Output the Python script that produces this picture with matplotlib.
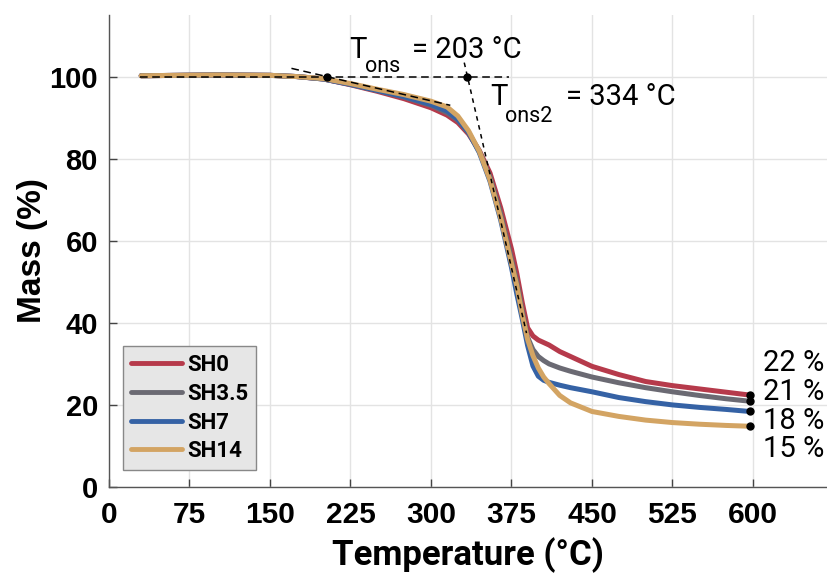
import matplotlib
matplotlib.use("Agg")
import matplotlib.pyplot as plt

# ---------------- data ----------------
temp = [30, 100, 150, 175, 200, 225, 250, 275, 300, 315, 325, 335, 345, 355, 365, 375,
        380, 385, 390, 395, 400, 405, 410, 420, 430, 450, 475, 500, 525, 550, 575, 597]

mass_sh0 = [100.2, 100.4, 100.3, 100.0, 99.4, 98.0, 96.4, 94.6, 92.4, 90.6, 88.8, 86.0, 82.0, 76.5, 68.0, 58.0,
            52.0, 45.0, 38.8, 36.8, 35.8, 35.2, 34.6, 33.0, 31.8, 29.4, 27.4, 25.7, 24.7, 23.9, 23.1, 22.4]
mass_sh35 = [100.2, 100.4, 100.3, 100.0, 99.4, 98.1, 96.6, 95.0, 93.0, 91.2, 89.4, 86.3, 81.8, 75.5, 66.5, 55.5,
             50.0, 43.0, 36.5, 33.5, 31.8, 30.8, 30.0, 29.0, 28.2, 26.8, 25.4, 24.2, 23.2, 22.3, 21.5, 20.9]
mass_sh7 = [100.2, 100.4, 100.3, 100.0, 99.4, 98.1, 96.6, 95.1, 93.2, 91.6, 89.6, 86.4, 81.5, 74.5, 65.0, 53.5,
            47.0, 41.0, 34.5, 29.5, 27.0, 26.0, 25.5, 24.8, 24.2, 23.2, 21.8, 20.8, 20.0, 19.4, 18.9, 18.4]
mass_sh14 = [100.2, 100.4, 100.3, 100.0, 99.5, 98.3, 96.9, 95.6, 94.0, 92.6, 90.4, 86.8, 81.8, 74.8, 65.5, 54.5,
             49.0, 42.0, 36.0, 32.0, 29.0, 26.8, 25.2, 22.3, 20.5, 18.4, 17.2, 16.3, 15.7, 15.3, 15.0, 14.8]

series_names = ["SH0", "SH3.5", "SH7", "SH14"]
series_mass = [mass_sh0, mass_sh35, mass_sh7, mass_sh14]
series_colors = ["#b63a4b", "#6b6a73", "#3562a5", "#d3a463"]
residue_labels = ["22 %", "21 %", "18 %", "15 %"]
residue_label_y = [28.3, 21.2, 14.1, 7.4]

t_ons = 203
t_ons2 = 334
# tangent construction lines (temperature, mass)
base_line_T = [29, 373]
base_line_M = [100, 100]
tan1_T = [170, 318]
tan1_M = [102.0, 93.0]
tan2_T = [331, 389]
tan2_M = [103.4, 37.5]

xticks = [0, 75, 150, 225, 300, 375, 450, 525, 600]
yticks = [0, 20, 40, 60, 80, 100]

# ---------------- style ----------------
din_reg = ['Roboto', 'DejaVu Sans']
din_bold = ['Roboto', 'DejaVu Sans']
arial = ['Liberation Sans', 'DejaVu Sans']

fig = plt.figure(figsize=(8.27, 5.74), dpi=100)
ax = fig.add_axes([109 / 827, 87 / 574, 718 / 827, 472 / 574])

for name, m, c in zip(series_names, series_mass, series_colors):
    ax.plot(temp, m, color=c, lw=3.6, label=name, solid_capstyle='round', zorder=3)

# construction lines
ax.plot(base_line_T, base_line_M, color='black', lw=1.1, ls=(0, (5, 3)), zorder=4)
ax.plot(tan1_T, tan1_M, color='black', lw=1.1, ls=(0, (5, 3)), zorder=4)
ax.plot(tan2_T, tan2_M, color='black', lw=1.1, ls=(0, (3, 3)), zorder=4)
ax.plot([t_ons, t_ons2], [100, 100], 'o', color='black', ms=5, zorder=5)

# residue dots and labels
for m in series_mass:
    ax.plot(temp[-1], m[-1], 'o', color='black', ms=5, zorder=5)
for lab, y in zip(residue_labels, residue_label_y):
    ax.text(609.5, y, lab, fontsize=21, family=din_reg, va='baseline', ha='left', zorder=6)

# onset annotations (main letter, subscript, value)
ax.text(223.6, 104.5, 'T', fontsize=21, family=din_reg, va='baseline', ha='left', zorder=6)
ax.text(238.5, 101.2, 'ons', fontsize=15.5, family=din_reg, va='baseline', ha='left', zorder=6)
ax.text(282.3, 104.5, f'= {t_ons} °C', fontsize=21, family=din_reg, va='baseline', ha='left', zorder=6)

ax.text(355.0, 93.1, 'T', fontsize=21, family=din_reg, va='baseline', ha='left', zorder=6)
ax.text(369.0, 89.0, 'ons2', fontsize=15.5, family=din_reg, va='baseline', ha='left', zorder=6)
ax.text(425.8, 93.1, f'= {t_ons2} °C', fontsize=21, family=din_reg, va='baseline', ha='left', zorder=6)

ax.set_xlim(0, 669)
ax.set_ylim(0, 115)
ax.set_xticks(xticks)
ax.set_yticks(yticks)
ax.set_xticklabels([str(v) for v in xticks], family=arial, fontweight='bold', fontsize=21.5)
ax.set_yticklabels([str(v) for v in yticks], family=arial, fontweight='bold', fontsize=21)
ax.tick_params(direction='in', length=6, width=1, color='#444444')
ax.tick_params(axis='x', pad=10)
ax.tick_params(axis='y', pad=8)
ax.grid(True, color='#e3e3e3', lw=1)
ax.set_axisbelow(True)
for s in ['top', 'right']:
    ax.spines[s].set_visible(False)
for s in ['left', 'bottom']:
    ax.spines[s].set_color('#555555')
    ax.spines[s].set_linewidth(1)

ax.set_xlabel('Temperature (°C)', family=din_bold, fontweight='bold', fontsize=25, labelpad=6)
ax.set_ylabel('Mass (%)', family=arial, fontweight='bold', fontsize=24, labelpad=1)

leg = ax.legend(loc='lower left', bbox_to_anchor=(0.0195, 0.036), borderaxespad=0,
                prop={'family': din_bold, 'weight': 'bold', 'size': 16},
                fancybox=False, framealpha=1, facecolor='#e6e6e6', edgecolor='#888888',
                handlelength=2.3, handletextpad=0.25, labelspacing=0.3, borderpad=0.35)
for h in leg.get_lines():
    h.set_linewidth(3.5)

fig.savefig('out.png', dpi=100)
